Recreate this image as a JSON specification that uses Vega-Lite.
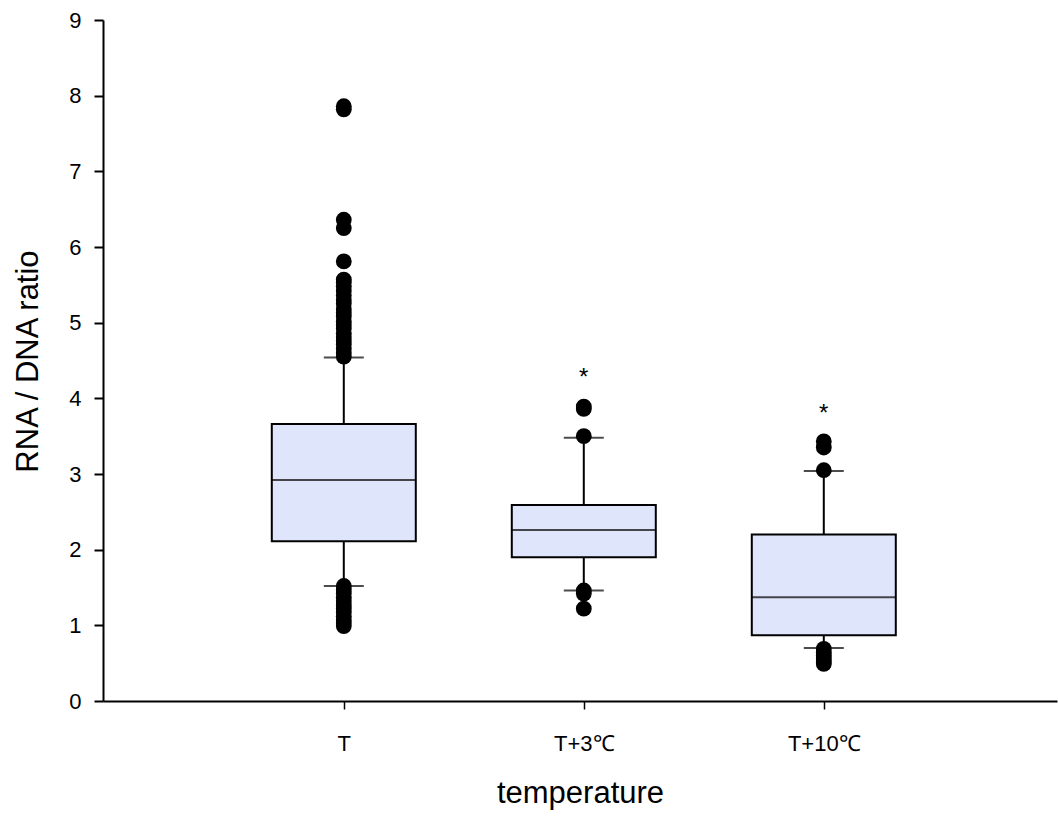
{
  "$schema": "https://vega.github.io/schema/vega-lite/v6.json",
  "width": 954,
  "height": 681,
  "autosize": "none",
  "padding": {"left": 103, "top": 20, "right": 1, "bottom": 115},
  "background": "white",
  "config": {
    "view": {"stroke": null},
    "font": "Liberation Sans",
    "axis": {
      "grid": false,
      "domainColor": "black",
      "domainWidth": 2,
      "tickColor": "black",
      "tickWidth": 2,
      "labelColor": "black",
      "labelFont": "Liberation Sans",
      "labelFontSize": 22,
      "titleFont": "Liberation Sans",
      "titleFontSize": 31,
      "titleFontWeight": "normal",
      "titleColor": "black"
    }
  },
  "datasets": {
    "boxes": [
      {"group": "T", "lo": 1.52, "q1": 2.11, "med": 2.92, "q3": 3.66, "hi": 4.54},
      {"group": "T+3℃", "lo": 1.46, "q1": 1.90, "med": 2.26, "q3": 2.59, "hi": 3.48},
      {"group": "T+10℃", "lo": 0.70, "q1": 0.87, "med": 1.37, "q3": 2.20, "hi": 3.04}
    ],
    "outliers": [
      {"group": "T", "value": 4.55}, {"group": "T", "value": 4.60}, {"group": "T", "value": 4.66},
      {"group": "T", "value": 4.71}, {"group": "T", "value": 4.76}, {"group": "T", "value": 4.81},
      {"group": "T", "value": 4.86}, {"group": "T", "value": 4.92}, {"group": "T", "value": 4.97},
      {"group": "T", "value": 5.02}, {"group": "T", "value": 5.08}, {"group": "T", "value": 5.13},
      {"group": "T", "value": 5.18}, {"group": "T", "value": 5.25}, {"group": "T", "value": 5.30},
      {"group": "T", "value": 5.36}, {"group": "T", "value": 5.42}, {"group": "T", "value": 5.48},
      {"group": "T", "value": 5.53}, {"group": "T", "value": 5.57}, {"group": "T", "value": 5.81},
      {"group": "T", "value": 6.25}, {"group": "T", "value": 6.36}, {"group": "T", "value": 7.82},
      {"group": "T", "value": 7.86},
      {"group": "T", "value": 1.52}, {"group": "T", "value": 1.47}, {"group": "T", "value": 1.42},
      {"group": "T", "value": 1.37}, {"group": "T", "value": 1.32}, {"group": "T", "value": 1.27},
      {"group": "T", "value": 1.22}, {"group": "T", "value": 1.17}, {"group": "T", "value": 1.12},
      {"group": "T", "value": 1.07}, {"group": "T", "value": 1.03}, {"group": "T", "value": 0.99},
      {"group": "T+3℃", "value": 3.50}, {"group": "T+3℃", "value": 3.86}, {"group": "T+3℃", "value": 3.89},
      {"group": "T+3℃", "value": 1.46}, {"group": "T+3℃", "value": 1.42}, {"group": "T+3℃", "value": 1.22},
      {"group": "T+10℃", "value": 3.05}, {"group": "T+10℃", "value": 3.35}, {"group": "T+10℃", "value": 3.43},
      {"group": "T+10℃", "value": 0.69}, {"group": "T+10℃", "value": 0.64}, {"group": "T+10℃", "value": 0.60},
      {"group": "T+10℃", "value": 0.56}, {"group": "T+10℃", "value": 0.52}, {"group": "T+10℃", "value": 0.49}
    ],
    "stars": [
      {"group": "T+3℃", "y": 4.35, "label": "*"},
      {"group": "T+10℃", "y": 3.87, "label": "*"}
    ]
  },
  "encoding": {
    "x": {
      "field": "group",
      "type": "nominal",
      "sort": ["T", "T+3℃", "T+10℃"],
      "scale": {"type": "point", "padding": 0.9875, "align": 0.508},
      "axis": {
        "title": "temperature",
        "labelAngle": 0,
        "tickSize": 8,
        "tickWidth": 1.5,
        "labelFont": "Liberation Sans",
        "labelFontSize": 22,
        "labelPadding": 24,
        "titlePadding": 24
      }
    }
  },
  "layer": [
    {
      "data": {"name": "boxes"},
      "mark": {"type": "rule", "color": "black", "strokeWidth": 2},
      "encoding": {
        "y": {
          "field": "lo",
          "type": "quantitative",
          "scale": {"domain": [0, 9], "nice": false, "zero": true},
          "axis": {
            "title": "RNA / DNA ratio",
            "values": [0, 0.5, 1, 1.5, 2, 2.5, 3, 3.5, 4, 4.5, 5, 5.5, 6, 6.5, 7, 7.5, 8, 8.5, 9],
            "format": "d",
            "labelExpr": "datum.value % 1 === 0 ? format(datum.value, 'd') : ''",
            "labelFont": "Liberation Sans",
            "labelFontSize": 22,
            "tickSize": {"condition": {"test": "datum.value % 1 === 0", "value": 9}, "value": 6},
            "labelPadding": 13,
            "titleX": -66,
            "titleY": 341,
            "titleAngle": -90,
            "titleAlign": "center",
            "titleBaseline": "alphabetic"
          }
        },
        "y2": {"field": "hi"}
      }
    },
    {
      "data": {"name": "boxes"},
      "mark": {"type": "tick", "color": "black", "size": 40, "thickness": 2, "orient": "horizontal"},
      "encoding": {"y": {"field": "lo", "type": "quantitative"}}
    },
    {
      "data": {"name": "boxes"},
      "mark": {"type": "tick", "color": "black", "size": 40, "thickness": 2, "orient": "horizontal"},
      "encoding": {"y": {"field": "hi", "type": "quantitative"}}
    },
    {
      "data": {"name": "boxes"},
      "mark": {"type": "bar", "size": 144, "fill": "#dfe6fc", "stroke": "black", "strokeWidth": 2},
      "encoding": {
        "y": {"field": "q1", "type": "quantitative"},
        "y2": {"field": "q3"}
      }
    },
    {
      "data": {"name": "boxes"},
      "mark": {"type": "tick", "color": "black", "size": 144, "thickness": 2, "orient": "horizontal"},
      "encoding": {"y": {"field": "med", "type": "quantitative"}}
    },
    {
      "data": {"name": "outliers"},
      "mark": {"type": "circle", "color": "black", "opacity": 1, "size": 250},
      "encoding": {"y": {"field": "value", "type": "quantitative"}}
    },
    {
      "data": {"name": "stars"},
      "mark": {"type": "text", "fontSize": 24, "color": "black", "baseline": "middle", "dy": 6, "font": "Liberation Sans"},
      "encoding": {
        "y": {"field": "y", "type": "quantitative"},
        "text": {"field": "label"}
      }
    }
  ]
}
